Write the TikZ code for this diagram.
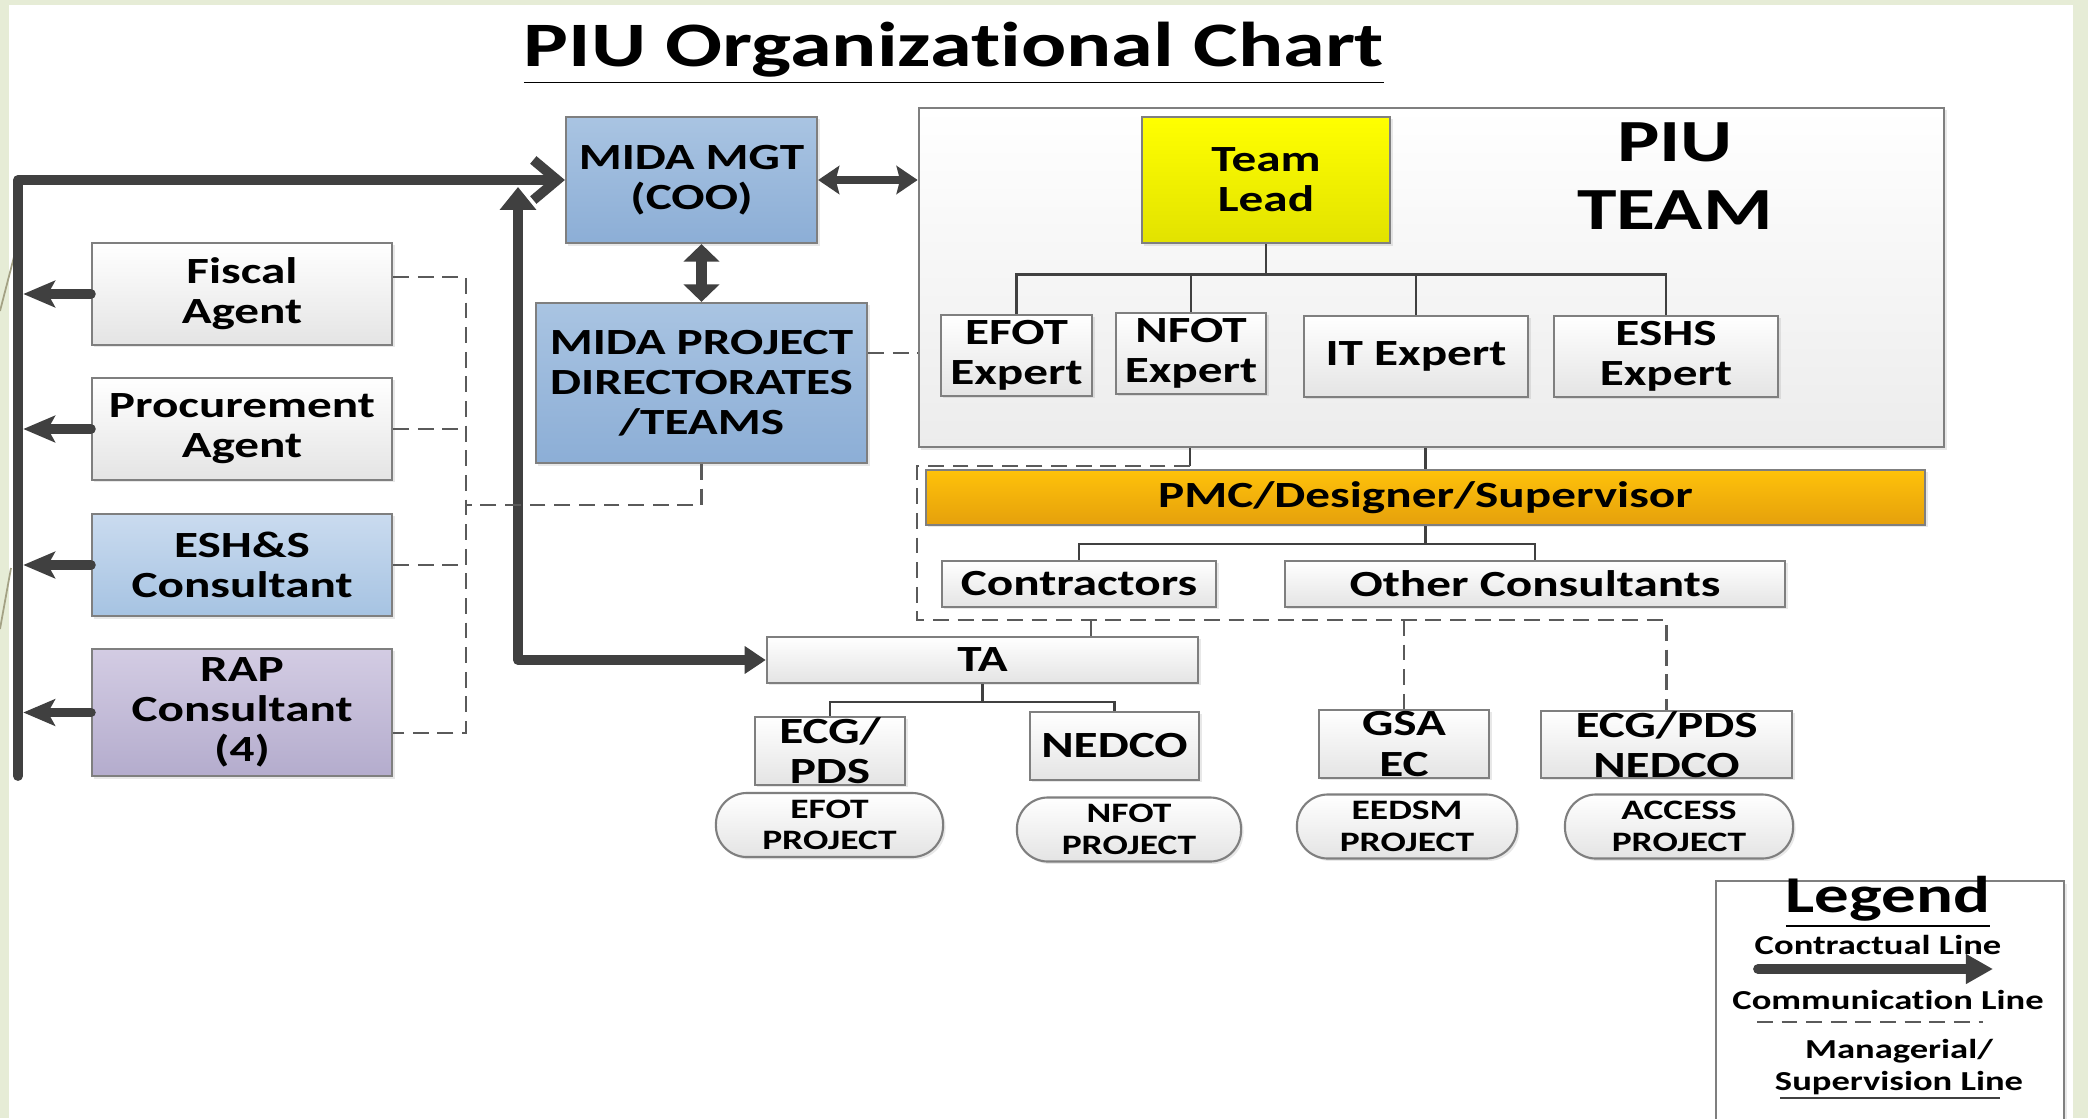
\documentclass[tikz,border=0pt]{standalone}
\usepackage{fontspec}
\setmainfont{Carlito}[FakeStretch=1.333, Ligatures=NoCommon]
\usetikzlibrary{arrows.meta,shadows}

\definecolor{piuline}{HTML}{404040}
\definecolor{boxgray}{HTML}{7F7F7F}
\definecolor{dashgray}{HTML}{5A5A5A}
\definecolor{slidegreen}{HTML}{E6ECD6}
\definecolor{slideolive}{HTML}{A3A184}
\definecolor{graybot}{HTML}{E4E4E4}
\definecolor{piubot}{HTML}{ECECEC}
\definecolor{midatop}{HTML}{A9C4E2}
\definecolor{midabot}{HTML}{8CAED6}
\definecolor{eshtop}{HTML}{CADBEF}
\definecolor{eshbot}{HTML}{A6C3E2}
\definecolor{raptop}{HTML}{D3CCE3}
\definecolor{rapbot}{HTML}{B4ACCD}
\definecolor{leadtop}{HTML}{FFFF00}
\definecolor{leadbot}{HTML}{E2E200}
\definecolor{pmctop}{HTML}{FFC20A}
\definecolor{pmcbot}{HTML}{E5A00C}

\newcommand{\orgfont}{\fontsize{10.5}{11.4}\selectfont\bfseries}
\newcommand{\pillfont}{\fontsize{8}{9}\selectfont\bfseries}
\newcommand{\legfont}{\fontsize{7.8}{9.2}\selectfont\bfseries}

\begin{document}
\begin{tikzpicture}[x=0.01cm, y=-0.01cm,
  every node/.style={inner sep=0pt, align=center, text=black},
  box/.style={draw=boxgray, line width=0.6pt, font=\orgfont,
    drop shadow={opacity=0.18, shadow xshift=0.7pt, shadow yshift=-0.7pt}},
  graybox/.style={box, top color=white, bottom color=graybot},
  midabox/.style={box, top color=midatop, bottom color=midabot},
  eshbox/.style={box, top color=eshtop, bottom color=eshbot},
  rapbox/.style={box, top color=raptop, bottom color=rapbot},
  leftbox/.style={minimum width=3cm, minimum height=1.02cm},
  expertbox/.style={graybox, minimum height=0.81cm},
  pill/.style={box, font=\pillfont, rounded corners=0.31cm, top color=white,
    bottom color=graybot, minimum height=0.64cm},
  contract/.style={draw=piuline, line width=2.8pt},
  mgr/.style={draw=dashgray, line width=0.7pt, dash pattern=on 4.5pt off 2.5pt},
  tree/.style={draw=piuline, line width=0.8pt},
  legtext/.style={font=\legfont}]

% Slide background
\useasboundingbox (0,0) rectangle (2088,1118);
\fill[white] (0,0) rectangle (2088,1118);
\fill[slidegreen] (0,0) rectangle (9,1118);
\fill[slidegreen] (0,0) rectangle (2088,5);
\fill[slidegreen] (2073,0) rectangle (2088,1118);
\draw[slideolive, line width=0.5pt] (15,253) -- (0,311);
\draw[slideolive, line width=0.5pt] (11,568) -- (0,629);

% Title
\node[font=\fontsize{18}{20}\selectfont\bfseries, anchor=base] (title) at (954,67)
  {\underline{PIU Organizational Chart}};

% Left column
\node[graybox, leftbox] (fiscal) at (242,294) {Fiscal\\Agent};
\node[graybox, leftbox] (procure) at (242,429) {Procurement\\Agent};
\node[eshbox, leftbox] (eshsc) at (242,565) {ESH\&S\\Consultant};
\node[rapbox, leftbox, minimum height=1.27cm] (rap) at (242,712.5) {RAP\\Consultant\\(4)};

% MIDA
\node[midabox, minimum width=2.51cm, minimum height=1.26cm] (mgt) at (691.5,180) {MIDA MGT\\(COO)};
\node[midabox, minimum width=3.31cm, minimum height=1.6cm] (proj) at (701.5,383)
  {MIDA PROJECT\\DIRECTORATES\\/TEAMS};

% PIU team
\node[box, top color=white, bottom color=piubot, minimum width=10.25cm, minimum height=3.39cm]
  (piu) at (1431.5,277.5) {};
\node[font=\fontsize{17}{19.3}\selectfont\bfseries] (piutitle) at (1675,176.5) {PIU\\TEAM};
\node[box, top color=leadtop, bottom color=leadbot, minimum width=2.48cm, minimum height=1.26cm]
  (lead) at (1266,180) {Team\\Lead};
\node[expertbox, minimum width=1.51cm] (efot) at (1016.5,355.5) {EFOT\\Expert};
\node[expertbox, minimum width=1.5cm] (nfot) at (1191,353.5) {NFOT\\Expert};
\node[expertbox, minimum width=2.24cm] (itx) at (1416,356.5) {IT Expert};
\node[expertbox, minimum width=2.24cm] (eshsx) at (1666,356.5) {ESHS\\Expert};

% PMC
\node[box, top color=pmctop, bottom color=pmcbot, minimum width=9.99cm, minimum height=0.55cm]
  (pmc) at (1425.5,497.5) {PMC/Designer/Supervisor};
\node[graybox, minimum width=2.74cm, minimum height=0.46cm] (contr) at (1079,584) {Contractors};
\node[graybox, minimum width=5cm, minimum height=0.46cm] (other) at (1535,584) {Other Consultants};

% TA and projects
\node[graybox, minimum width=4.31cm, minimum height=0.46cm] (ta) at (982.5,660) {TA};
\node[graybox, minimum width=1.5cm, minimum height=0.68cm] (ecgpds) at (830,751) {ECG/\\PDS};
\node[graybox, minimum width=1.69cm, minimum height=0.68cm] (nedco) at (1114.5,746) {NEDCO};
\node[graybox, minimum width=1.7cm, minimum height=0.68cm] (gsa) at (1404,744) {GSA\\EC};
\node[graybox, minimum width=2.51cm, minimum height=0.67cm] (ecgned) at (1666.5,744.5) {ECG/PDS\\NEDCO};
\node[pill, minimum width=2.27cm] (pefot) at (829.5,825) {EFOT\\PROJECT};
\node[pill, minimum width=2.24cm] (pnfot) at (1129,829.5) {NFOT\\PROJECT};
\node[pill, minimum width=2.2cm] (peedsm) at (1407,826.5) {EEDSM\\PROJECT};
\node[pill, minimum width=2.28cm] (paccess) at (1679,826.5) {ACCESS\\PROJECT};

% Contractual lines
\coordinate (bartop) at (18,180);
\coordinate (barbot) at (18,776);
\coordinate (tatop) at (518,187);
\coordinate (tacorner) at (518,660);
\draw[contract, line cap=round, line join=round, -{Straight Barb[length=6.8pt,width=11.4pt]}]
  (barbot) -- (bartop) -- (mgt.west);
\foreach \k in {fiscal,procure,eshsc,rap}
  \draw[contract, line cap=round, -{Stealth[length=9pt,width=7.5pt,inset=2pt]}]
    (\k.west) -- ([xshift=1.5pt]\k.west -| bartop);
\draw[contract, line join=round, {Triangle[length=6.5pt,width=10pt]}-{Triangle[length=6pt,width=7.5pt]}]
  (tatop) -- (tacorner) -- (ta.west);
\draw[draw=piuline, line width=2pt, {Stealth[length=6pt,width=8pt,inset=1pt]}-{Stealth[length=6pt,width=8pt,inset=1pt]}]
  (mgt.east) -- (mgt.east -| piu.west);
\draw[draw=piuline, line width=3pt, {Triangle[length=5pt,width=10pt]}-{Triangle[length=5pt,width=10pt]}]
  (proj.north |- mgt.south) -- (proj.north);

% Managerial lines
\coordinate (mgrtop) at (466,277);
\coordinate (mgrmid) at (466,505);
\coordinate (mgrbot) at (466,733);
\draw[mgr] (fiscal.east |- mgrtop) -- (mgrtop) -- (mgrbot) -- (rap.east |- mgrbot);
\draw[mgr] (procure.east) -- (procure.east -| mgrtop);
\draw[mgr] (eshsc.east) -- (eshsc.east -| mgrtop);
\draw[mgr] (proj.south) |- (mgrmid);
\draw[mgr] ([yshift=0.3cm]proj.east) -- ([yshift=0.3cm]proj.east -| piu.west);

\coordinate (stub) at (1190,466);
\coordinate (dtl) at (917,466);
\coordinate (dbl) at (917,620);
\coordinate (tabr) at (1091,620);
\draw[tree] (stub |- piu.south) -- (stub);
\draw[tree] (pmc.north |- piu.south) -- (pmc.north);
\draw[mgr] (stub) -- (dtl) -- (dbl) -| (ecgned.north);
\draw[mgr] (tabr) -- (tabr |- ta.north);
\draw[mgr] (gsa.north |- dbl) -- (gsa.north);

% Trees
\foreach \k in {efot,nfot,itx,eshsx}
  \draw[tree] (lead.south) -- ++(0,30) -| (\k.north);
\foreach \k in {contr,other}
  \draw[tree] (pmc.south) -- ++(0,18) -| (\k.north);
\foreach \k in {ecgpds,nedco}
  \draw[tree] (ta.south) -- ++(0,18) -| (\k.north);

% Legend
\node[box, fill=white, minimum width=3.48cm, minimum height=2.45cm, anchor=north west]
  (legend) at (1715,880) {};
\node[font=\fontsize{14.7}{16}\selectfont\bfseries] (legtitle) at (1888,902) {\underline{Legend}};
\node[legtext] (lgcontract) at (1878,945) {Contractual Line};
\coordinate (la) at (1758,969);
\coordinate (lb) at (1993,969);
\draw[contract, line cap=round, -{Triangle[length=7.7pt,width=8pt]}] (la) -- (lb);
\node[legtext] (lgcomm) at (1888,1000) {Communication Line};
\coordinate (lc) at (1757,1022);
\coordinate (ld) at (1983,1022);
\draw[mgr] (lc) -- (ld);
\node[legtext] (lgmgr) at (1899,1067) {Managerial/\\Supervision Line};
\coordinate (le) at (1780,1098);
\coordinate (lf) at (2000,1098);
\draw[tree] (le) -- (lf);
\end{tikzpicture}
\end{document}
